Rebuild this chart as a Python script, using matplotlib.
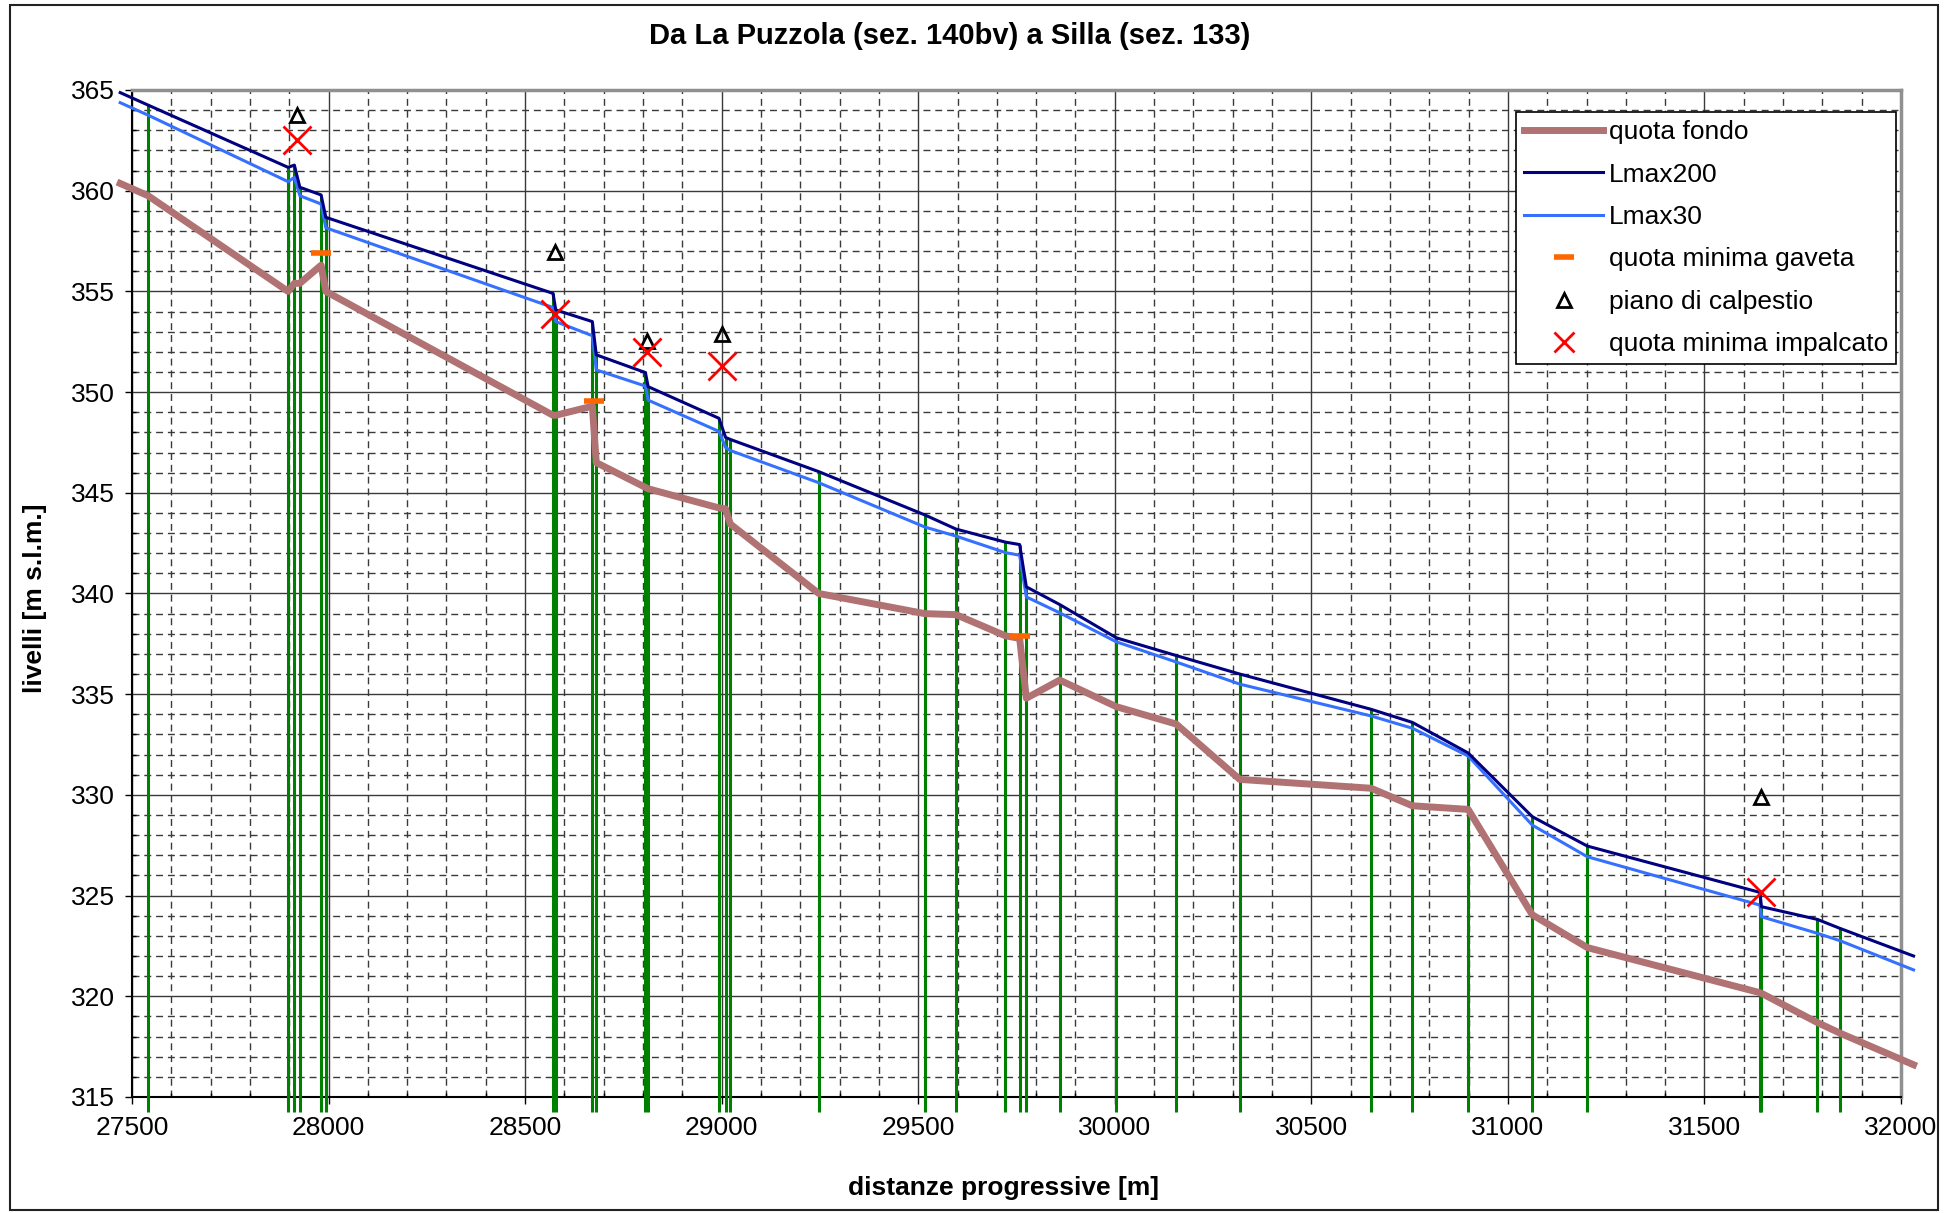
import matplotlib
matplotlib.use("Agg")
import matplotlib.pyplot as plt
from matplotlib.lines import Line2D
from matplotlib.patches import Rectangle
from matplotlib.ticker import MultipleLocator

plt.rcParams["font.family"] = ["Liberation Sans", "DejaVu Sans"]

TITLE = "Da La Puzzola (sez. 140bv) a Silla (sez. 133)"

# sezioni: progressive [m] and levels [m s.l.m.]
sez_x = [27470, 27541, 27897, 27913, 27927, 27981, 27993, 28571, 28578,
         28671, 28681, 28806, 28813, 28993, 29010, 29022, 29247, 29517,
         29596, 29722, 29758, 29775, 29860, 30004, 30156, 30318, 30652,
         30757, 30899, 31062, 31202, 31641, 31645, 31787, 31845, 32032]
lmax200 = [364.87, 364.25, 361.16, 361.27, 360.17, 359.79, 358.68, 354.90,
           354.08, 353.50, 351.85, 350.97, 350.27, 348.70, 347.75, 347.65,
           346.05, 343.90, 343.20, 342.55, 342.43, 340.33, 339.45, 337.80,
           336.92, 336.00, 334.25, 333.60, 332.08, 328.92, 327.46, 325.16,
           324.45, 323.82, 323.37, 322.00]
lmax30 = [364.37, 363.75, 360.45, 360.66, 359.75, 359.34, 358.16, 354.20,
          353.50, 352.80, 351.10, 350.30, 349.60, 348.05, 347.25, 347.10,
          345.50, 343.30, 342.85, 342.03, 341.90, 339.83, 339.04, 337.60,
          336.60, 335.50, 333.92, 333.31, 331.93, 328.50, 326.93, 324.53,
          323.95, 323.13, 322.76, 321.31]
fondo = [360.36, 359.75, 355.00, 355.40, 355.40, 356.30, 355.00, 348.85,
         348.85, 349.30, 346.50, 345.27, 345.20, 344.25, 344.20, 343.45,
         340.00, 339.00, 338.95, 337.90, 337.77, 334.80, 335.70, 334.38,
         333.52, 330.77, 330.33, 329.46, 329.28, 324.05, 322.42, 320.18,
         320.15, 318.70, 318.17, 316.60]

# bridges
gaveta_x = [27982, 28674, 29759]
gaveta_y = [356.92, 349.57, 337.90]
calpestio_x = [27919, 28576, 28811, 29000, 31643]
calpestio_y = [363.75, 356.95, 352.55, 352.90, 329.90]
impalcato_x = [27919, 28576, 28811, 29000, 31643]
impalcato_y = [362.50, 353.90, 352.00, 351.30, 325.20]

SEZ_BASE = 314.25  # section markers run below the axis floor

W, H = 1955, 1213
fig = plt.figure(figsize=(W / 100, H / 100), dpi=100)
ax = fig.add_axes([132 / W, 1 - 1097 / H, (1901 - 132) / W, (1097 - 90) / H])

ax.set_xlim(27500, 32000)
ax.set_ylim(315, 365)
ax.xaxis.set_major_locator(MultipleLocator(500))
ax.xaxis.set_minor_locator(MultipleLocator(100))
ax.yaxis.set_major_locator(MultipleLocator(5))
ax.yaxis.set_minor_locator(MultipleLocator(1))
ax.grid(which="major", color="#3a3a3a", lw=1.0, ls="-")
ax.grid(which="minor", color="#3a3a3a", lw=1.0, ls=(0, (5, 3.5)))
ax.set_axisbelow(True)

ax.tick_params(which="major", direction="out", length=5, width=1,
               labelsize=19, color="black")
ax.tick_params(axis="x", which="major", pad=9)
ax.tick_params(axis="y", which="major", pad=7)
ax.tick_params(which="minor", direction="in", length=3, width=1)

for s in ("left", "bottom"):
    ax.spines[s].set_color("black")
    ax.spines[s].set_linewidth(1.5)
for s in ("top", "right"):
    ax.spines[s].set_color("#909090")
    ax.spines[s].set_linewidth(2.5)

# green section verticals up to Lmax200
ax.vlines(sez_x[1:-1], SEZ_BASE, lmax200[1:-1], colors="#008000", lw=2.2,
          clip_on=False, zorder=3)

ax.plot(sez_x, fondo, color="#B07272", lw=5, clip_on=False, zorder=4)
ax.plot(sez_x, lmax30, color="#3670FF", lw=2.2, clip_on=False, zorder=5)
ax.plot(sez_x, lmax200, color="#000080", lw=2.2, clip_on=False, zorder=6)

ax.plot(gaveta_x, gaveta_y, ls="none", marker="_", ms=15, mew=4,
        color="#FF6600", zorder=7)
ax.plot(calpestio_x, calpestio_y, ls="none", marker="^", ms=10, mfc="none",
        mec="black", mew=2, zorder=7)
ax.plot(impalcato_x, impalcato_y, ls="none", marker="x", ms=20, mew=2,
        color="#FF0000", zorder=8)

handles = [
    Line2D([0], [0], color="#B07272", lw=5, label="quota fondo"),
    Line2D([0], [0], color="#000080", lw=2.2, label="Lmax200"),
    Line2D([0], [0], color="#3670FF", lw=2.2, label="Lmax30"),
    Line2D([0], [0], ls="none", marker="_", ms=15, mew=4, color="#FF6600",
           label="quota minima gaveta"),
    Line2D([0], [0], ls="none", marker="^", ms=10, mfc="none", mec="black",
           mew=2, label="piano di calpestio"),
    Line2D([0], [0], ls="none", marker="x", ms=14, mew=2, color="#FF0000",
           label="quota minima impalcato"),
]
leg = ax.legend(handles=handles, loc="upper right",
                bbox_to_anchor=(0.997, 0.978), borderaxespad=0, fontsize=19,
                frameon=True, fancybox=False, edgecolor="black",
                framealpha=1, handlelength=3.0, handletextpad=0.2,
                borderpad=0.3, labelspacing=0.7)
leg.get_frame().set_linewidth(1.2)
leg.set_zorder(10)

fig.text(950 / W, 1 - 36 / H, TITLE, ha="center", va="center", fontsize=21,
         weight="bold")
fig.text(1004 / W, 1 - 1188 / H, "distanze progressive [m]", ha="center",
         va="center", fontsize=19, weight="bold")
fig.text(35 / W, 1 - 598 / H, "livelli [m s.l.m.]", ha="center",
         va="center", rotation=90, fontsize=19, weight="bold")

fig.add_artist(Rectangle((10 / W, 3 / H), 1928 / W, 1205 / H,
                         transform=fig.transFigure, fill=False,
                         ec="#222222", lw=1.5))

fig.savefig("out.png", dpi=100)
